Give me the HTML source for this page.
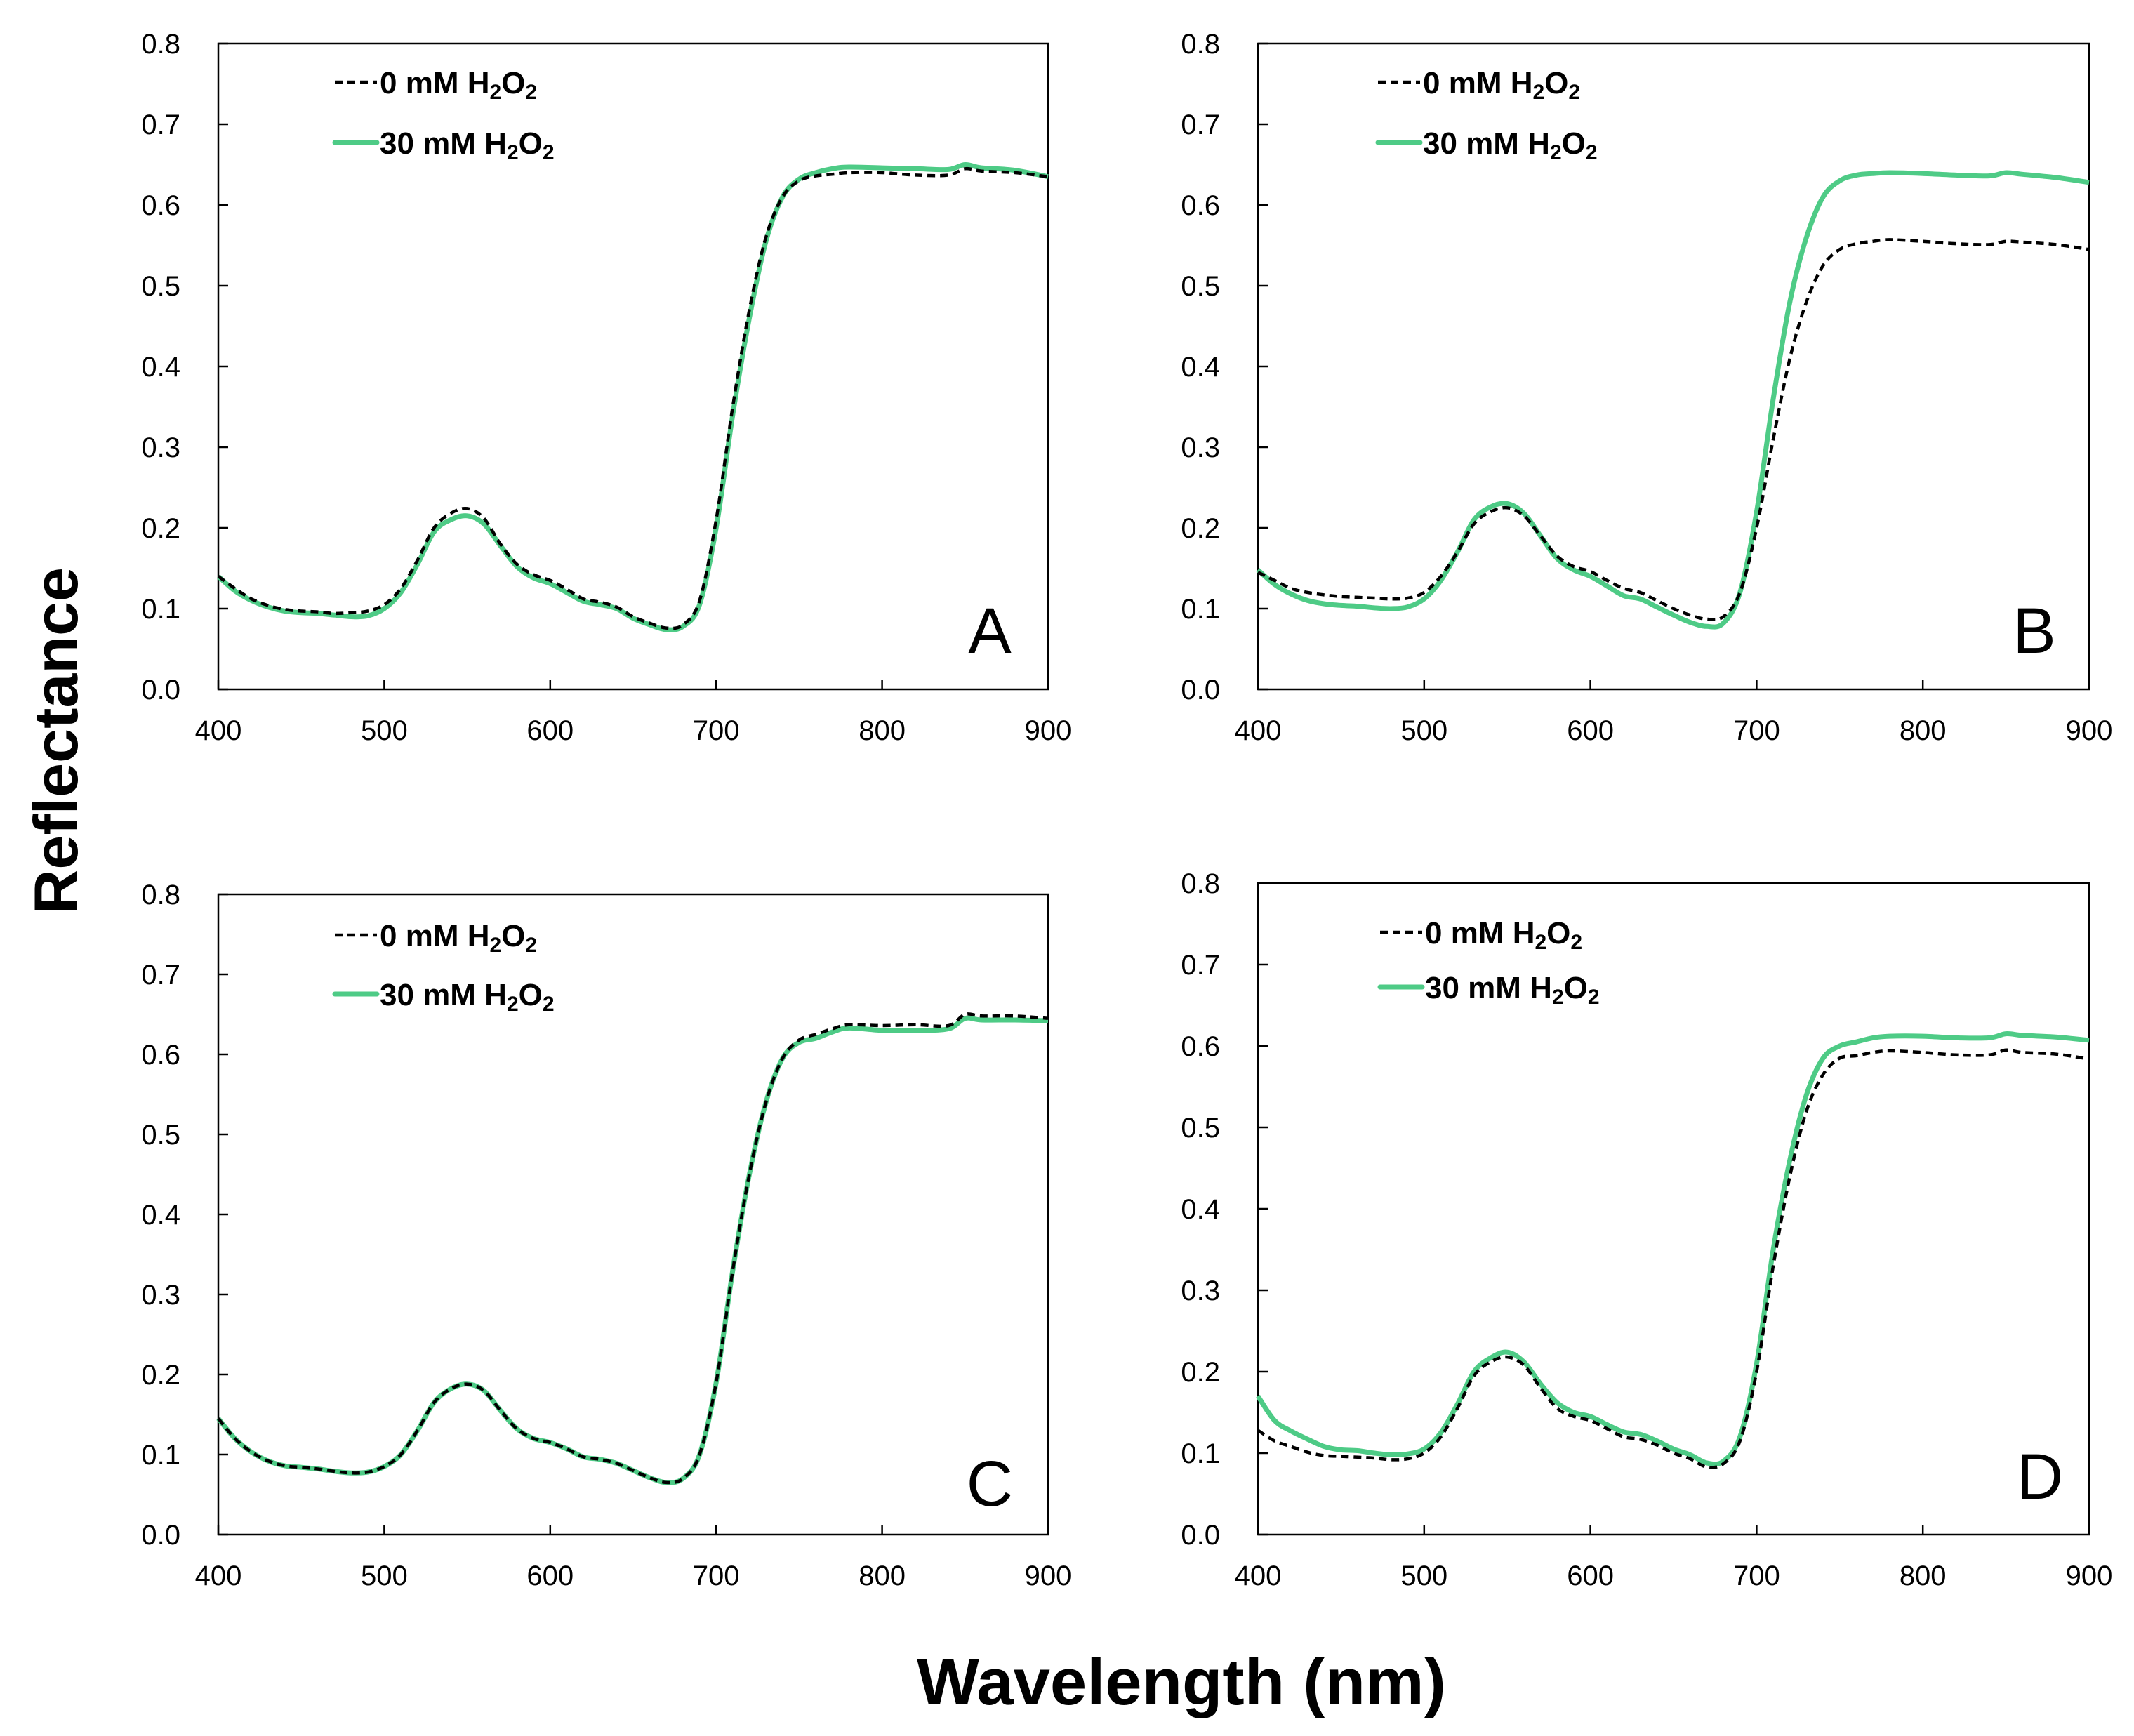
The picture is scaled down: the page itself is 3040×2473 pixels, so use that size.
<!DOCTYPE html>
<html><head><meta charset="utf-8">
<style>
html,body{margin:0;padding:0;background:#fff;}
svg{display:block;}
text{font-family:"Liberation Sans",sans-serif;fill:#000;}
</style></head>
<body>
<svg id="fig" width="3040" height="2473" viewBox="0 0 3040 2473" xmlns="http://www.w3.org/2000/svg">
<rect width="3040" height="2473" fill="#fff"/>
<text x="0" y="0" transform="translate(110,1055) rotate(-90)" text-anchor="middle" font-size="88" font-weight="bold">Reflectance</text>
<text x="1683" y="2428" text-anchor="middle" font-size="94" font-weight="bold">Wavelength (nm)</text>
</svg>
<script>
const wavelengths=[400,410,420,430,440,450,460,470,480,490,500,510,520,530,540,550,560,570,580,590,600,610,620,630,640,650,660,670,680,690,700,710,720,730,740,750,760,770,780,800,820,840,850,860,880,900];
const xTicks=[400,500,600,700,800,900];
const yTicks=[0,0.1,0.2,0.3,0.4,0.5,0.6,0.7,0.8];
const yTickLabels=["0.0","0.1","0.2","0.3","0.4","0.5","0.6","0.7","0.8"];
const panelLetters=["A","B","C","D"];
const aControl=[0.14,0.125,0.112,0.104,0.099,0.097,0.096,0.094,0.095,0.097,0.105,0.125,0.16,0.2,0.218,0.224,0.212,0.18,0.155,0.142,0.135,0.124,0.112,0.108,0.102,0.09,0.082,0.076,0.08,0.11,0.21,0.35,0.47,0.56,0.61,0.63,0.636,0.638,0.64,0.64,0.637,0.637,0.645,0.642,0.64,0.635];
const aTreated=[0.14,0.122,0.11,0.102,0.097,0.095,0.094,0.092,0.09,0.091,0.1,0.12,0.155,0.195,0.21,0.215,0.205,0.178,0.152,0.138,0.131,0.12,0.109,0.105,0.1,0.088,0.08,0.074,0.078,0.105,0.2,0.34,0.46,0.555,0.61,0.632,0.64,0.645,0.647,0.646,0.645,0.644,0.65,0.646,0.643,0.635];
const bControl=[0.145,0.135,0.125,0.12,0.117,0.115,0.114,0.113,0.112,0.113,0.12,0.14,0.17,0.205,0.22,0.225,0.215,0.19,0.165,0.152,0.146,0.135,0.125,0.12,0.11,0.1,0.092,0.087,0.09,0.12,0.2,0.31,0.41,0.48,0.525,0.545,0.552,0.555,0.557,0.555,0.552,0.551,0.555,0.554,0.551,0.545];
const bTreated=[0.148,0.13,0.118,0.11,0.106,0.104,0.103,0.101,0.1,0.102,0.112,0.135,0.17,0.21,0.226,0.23,0.218,0.19,0.162,0.148,0.14,0.128,0.116,0.112,0.102,0.092,0.083,0.078,0.082,0.12,0.22,0.36,0.48,0.56,0.61,0.63,0.637,0.639,0.64,0.639,0.637,0.636,0.64,0.638,0.634,0.628];
const cControl=[0.145,0.12,0.103,0.092,0.086,0.084,0.082,0.079,0.077,0.078,0.085,0.1,0.13,0.165,0.182,0.188,0.18,0.155,0.132,0.12,0.115,0.107,0.097,0.094,0.089,0.08,0.071,0.065,0.07,0.1,0.19,0.33,0.45,0.54,0.595,0.618,0.625,0.632,0.637,0.636,0.637,0.636,0.65,0.648,0.648,0.645];
const cTreated=[0.145,0.12,0.103,0.092,0.086,0.084,0.082,0.079,0.077,0.078,0.085,0.1,0.13,0.165,0.182,0.188,0.18,0.155,0.132,0.12,0.115,0.107,0.097,0.094,0.089,0.08,0.071,0.065,0.07,0.1,0.19,0.33,0.45,0.54,0.595,0.615,0.62,0.628,0.633,0.63,0.63,0.632,0.645,0.643,0.643,0.642];
const dControl=[0.128,0.115,0.108,0.101,0.097,0.096,0.095,0.094,0.092,0.093,0.1,0.12,0.155,0.195,0.212,0.218,0.208,0.18,0.155,0.145,0.14,0.13,0.12,0.117,0.11,0.1,0.093,0.083,0.087,0.115,0.2,0.33,0.44,0.52,0.565,0.585,0.588,0.592,0.594,0.592,0.589,0.589,0.595,0.592,0.59,0.584];
const dTreated=[0.17,0.14,0.127,0.117,0.108,0.104,0.103,0.1,0.098,0.099,0.105,0.125,0.16,0.2,0.217,0.224,0.212,0.185,0.162,0.15,0.145,0.135,0.126,0.123,0.115,0.105,0.098,0.088,0.09,0.12,0.21,0.35,0.46,0.54,0.585,0.6,0.605,0.61,0.612,0.612,0.61,0.61,0.615,0.613,0.611,0.607];

const NS="http://www.w3.org/2000/svg";
const svg=document.getElementById('fig');
function mk(tag,attrs,parent){const e=document.createElementNS(NS,tag);for(const k in attrs)e.setAttribute(k,attrs[k]);(parent||svg).appendChild(e);return e;}
function smoothPath(pts){let d="M"+pts[0][0].toFixed(1)+","+pts[0][1].toFixed(1);
 for(let i=0;i<pts.length-1;i++){const p0=pts[Math.max(0,i-1)],p1=pts[i],p2=pts[i+1],p3=pts[Math.min(pts.length-1,i+2)];
  const c1x=p1[0]+(p2[0]-p0[0])/6,c1y=p1[1]+(p2[1]-p0[1])/6,c2x=p2[0]-(p3[0]-p1[0])/6,c2y=p2[1]-(p3[1]-p1[1])/6;
  d+=" C"+c1x.toFixed(1)+","+c1y.toFixed(1)+" "+c2x.toFixed(1)+","+c2y.toFixed(1)+" "+p2[0].toFixed(1)+","+p2[1].toFixed(1);}
 return d;}
const panels=[
 {L:311,R:1493,T:62,B:982,ctrl:aControl,trt:aTreated,lgx:477,lgy1:117,lgy2:203,letX:1410,letY:930},
 {L:1792,R:2976,T:62,B:982,ctrl:bControl,trt:bTreated,lgx:1963,lgy1:117,lgy2:203,letX:2898,letY:930},
 {L:311,R:1493,T:1274,B:2186,ctrl:cControl,trt:cTreated,lgx:477,lgy1:1332,lgy2:1416,letX:1410,letY:2145},
 {L:1792,R:2976,T:1258,B:2186,ctrl:dControl,trt:dTreated,lgx:1966,lgy1:1328,lgy2:1406,letX:2906,letY:2135}];
panels.forEach((p,pi)=>{
 const g=mk('g',{});
 
 
 const xs=v=>p.L+(v-400)/500*(p.R-p.L);
 const ys=v=>p.B-v/0.8*(p.B-p.T);
 const frame=mk('rect',{x:p.L,y:p.T,width:p.R-p.L,height:p.B-p.T,fill:'none',stroke:'#000','stroke-width':2.5},g);
 
 
 xTicks.forEach(t=>{const x=xs(t);
  mk('line',{x1:x,x2:x,y1:p.B,y2:p.B-14,stroke:'#000','stroke-width':2.5},g);
  const tl=mk('text',{x:x,y:p.B+72,'text-anchor':'middle','font-size':40},g);tl.textContent=t;
  
  });
 yTicks.forEach((t,i)=>{const y=ys(t);
  mk('line',{x1:p.L,x2:p.L+14,y1:y,y2:y,stroke:'#000','stroke-width':2.5},g);
  const tl=mk('text',{x:p.L-54,y:y+14,'text-anchor':'end','font-size':40},g);tl.textContent=yTickLabels[i];
  
  });
 const ptsT=wavelengths.map((w,i)=>[xs(w),ys(p.trt[i])]);
 const ptsC=wavelengths.map((w,i)=>[xs(w),ys(p.ctrl[i])]);
 const lt=mk('path',{d:smoothPath(ptsT),fill:'none',stroke:'#4ecb86','stroke-width':7,'stroke-linejoin':'round'},g);
 
 
 const lc=mk('path',{d:smoothPath(ptsC),fill:'none',stroke:'#000','stroke-width':4.5,'stroke-dasharray':'11 7'},g);
 
 
 const lg1=mk('g',{},g);
 
 
 mk('line',{x1:p.lgx,x2:p.lgx+60,y1:p.lgy1,y2:p.lgy1,stroke:'#000','stroke-width':4.5,'stroke-dasharray':'11 7'},lg1);
 const t1=mk('text',{x:p.lgx+64,y:p.lgy1+16,'font-size':44,'font-weight':'bold'},lg1);
 t1.innerHTML='0 mM H<tspan font-size="30" dy="8">2</tspan><tspan dy="-8">O</tspan><tspan font-size="30" dy="8">2</tspan>';
 const lg2=mk('g',{},g);
 
 
 mk('line',{x1:p.lgx,x2:p.lgx+60,y1:p.lgy2,y2:p.lgy2,stroke:'#4ecb86','stroke-width':7,'stroke-linecap':'round'},lg2);
 const t2=mk('text',{x:p.lgx+64,y:p.lgy2+16,'font-size':44,'font-weight':'bold'},lg2);
 t2.innerHTML='30 mM H<tspan font-size="30" dy="8">2</tspan><tspan dy="-8">O</tspan><tspan font-size="30" dy="8">2</tspan>';
 const let_=mk('text',{x:p.letX,y:p.letY,'text-anchor':'middle','font-size':92},g);
 let_.textContent=panelLetters[pi];
 
 
});
</script>
</body></html>
